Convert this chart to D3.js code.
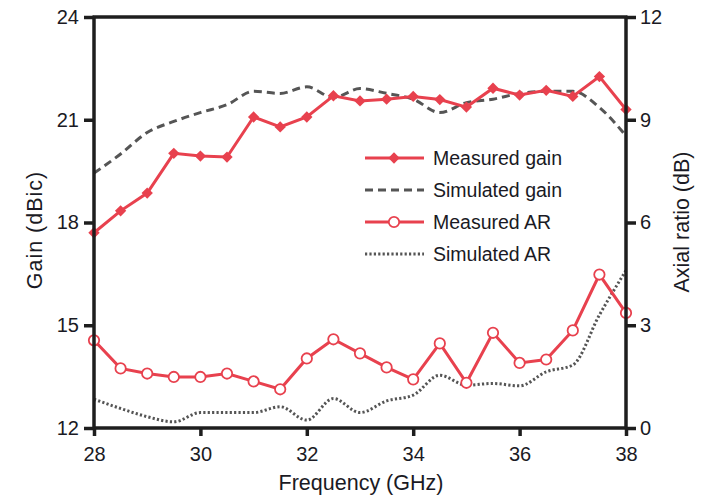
<!DOCTYPE html>
<html><head><meta charset="utf-8">
<script src="https://cdn.jsdelivr.net/npm/d3@7"></script>
<style>body{margin:0;background:#fff}svg{display:block}text{font-family:"Liberation Sans",Arial,sans-serif}</style>
</head><body><svg id="c" width="709" height="496"></svg>
<script>
const freq = [28,28.5,29,29.5,30,30.5,31,31.5,32,32.5,33,33.5,34,34.5,35,35.5,36,36.5,37,37.5,38];
const measuredGain = [17.7,18.34,18.86,20.02,19.94,19.91,21.08,20.79,21.08,21.7,21.55,21.6,21.68,21.59,21.37,21.92,21.72,21.86,21.68,22.26,21.3];
const simulatedGain = [19.44,20.0,20.63,20.95,21.21,21.44,21.83,21.77,21.96,21.65,21.91,21.77,21.6,21.21,21.5,21.6,21.77,21.83,21.83,21.36,20.53];
const measuredAR = [2.56,1.74,1.59,1.49,1.49,1.59,1.36,1.13,2.03,2.59,2.18,1.77,1.42,2.47,1.32,2.78,1.9,2.0,2.85,4.48,3.36];
const simulatedAR = [0.84,0.57,0.33,0.18,0.45,0.45,0.45,0.62,0.23,0.86,0.45,0.79,0.96,1.54,1.25,1.3,1.23,1.64,1.84,3.3,4.6];
const xTicks = [28,30,32,34,36,38];
const gainTicks = [12,15,18,21,24];
const arTicks = [0,3,6,9,12];
const legendLabels = ["Measured gain","Simulated gain","Measured AR","Simulated AR"];

const svg = d3.select("#c");
const L=94, R=626, T=17, B=428;
const x = d3.scaleLinear().domain([28,38]).range([L,R]);
const yG = d3.scaleLinear().domain([12,24]).range([B,T]);
const yA = d3.scaleLinear().domain([0,12]).range([B,T]);
const red="#e8414e", gray="#555", axisCol="#1e1e1e", txt="#1a1a24";

const lineG = d3.line().x((d,i)=>x(freq[i])).y(d=>yG(d));
const lineA = d3.line().x((d,i)=>x(freq[i])).y(d=>yA(d));
const lineGc = d3.line().x((d,i)=>x(freq[i])).y(d=>yG(d)).curve(d3.curveMonotoneX);
const lineAc = d3.line().x((d,i)=>x(freq[i])).y(d=>yA(d)).curve(d3.curveMonotoneX);

svg.append("path").attr("d",lineGc(simulatedGain)).attr("fill","none").attr("stroke",gray).attr("stroke-width",3).attr("stroke-dasharray","8,5");
svg.append("path").attr("d",lineAc(simulatedAR)).attr("fill","none").attr("stroke",gray).attr("stroke-width",3).attr("stroke-dasharray","2.2,2.2");
svg.append("path").attr("d",lineG(measuredGain)).attr("fill","none").attr("stroke",red).attr("stroke-width",3);
svg.append("path").attr("d",lineA(measuredAR)).attr("fill","none").attr("stroke",red).attr("stroke-width",3);

const diamond = d3.symbol().type(d3.symbolSquare).size(64);
svg.append("g").selectAll("path").data(measuredGain).join("path")
  .attr("d",diamond).attr("transform",(d,i)=>`translate(${x(freq[i])},${yG(d)}) rotate(45)`).attr("fill",red);
svg.append("g").selectAll("circle").data(measuredAR).join("circle")
  .attr("cx",(d,i)=>x(freq[i])).attr("cy",d=>yA(d)).attr("r",5.2).attr("fill","#fff").attr("stroke",red).attr("stroke-width",1.8);

// axes
const fs = 20;
const gx = svg.append("g").attr("transform",`translate(0,${B})`).call(d3.axisBottom(x).tickValues(xTicks).tickSize(8).tickFormat(d3.format("d")));
const gl = svg.append("g").attr("transform",`translate(${L},0)`).call(d3.axisLeft(yG).tickValues(gainTicks).tickSize(10));
const gr = svg.append("g").attr("transform",`translate(${R},0)`).call(d3.axisRight(yA).tickValues(arTicks).tickSize(10));
[gx,gl,gr].forEach(g=>{
  g.select(".domain").attr("stroke",axisCol).attr("stroke-width",3.5);
  g.selectAll(".tick line").attr("stroke",axisCol).attr("stroke-width",3.5);
  g.selectAll(".tick text").attr("fill",txt).style("font-size",fs+"px").style("font-family","Liberation Sans, Arial, sans-serif");
});
gx.select(".domain").attr("d",`M${L},0H${R}`);
gl.select(".domain").attr("d",`M0,${B}V${T}`);
gr.select(".domain").attr("d",`M0,${B}V${T}`);
gx.selectAll(".tick text").attr("y",33).attr("dy",0);
gl.selectAll(".tick text").attr("x",-15);
gr.selectAll(".tick text").attr("x",14);
svg.append("line").attr("x1",L-1.5).attr("x2",R+1.5).attr("y1",T).attr("y2",T).attr("stroke",axisCol).attr("stroke-width",3.5);

// titles
const tfs = 21.5;
svg.append("text").attr("x",(L+R)/2+1).attr("y",490).attr("text-anchor","middle").style("font-size",tfs+"px").attr("fill",txt).text("Frequency (GHz)");
svg.append("text").attr("transform",`translate(42,230) rotate(-90)`).attr("text-anchor","middle").style("font-size",tfs+"px").style("letter-spacing","1px").attr("fill",txt).text("Gain (dBic)");
svg.append("text").attr("transform",`translate(689,222) rotate(-90)`).attr("text-anchor","middle").style("font-size",tfs+"px").attr("fill",txt).text("Axial ratio (dB)");

// legend
const lg = svg.append("g");
const ly = [158,190,222,254];
const lx1=365, lx2=424, lmid=394;
lg.append("line").attr("x1",lx1).attr("x2",lx2).attr("y1",ly[0]).attr("y2",ly[0]).attr("stroke",red).attr("stroke-width",3);
lg.append("path").attr("d",diamond).attr("transform",`translate(${lmid},${ly[0]}) rotate(45)`).attr("fill",red);
lg.append("line").attr("x1",lx1).attr("x2",lx2).attr("y1",ly[1]).attr("y2",ly[1]).attr("stroke",gray).attr("stroke-width",3).attr("stroke-dasharray","8,5");
lg.append("line").attr("x1",lx1).attr("x2",lx2).attr("y1",ly[2]).attr("y2",ly[2]).attr("stroke",red).attr("stroke-width",3);
lg.append("circle").attr("cx",lmid).attr("cy",ly[2]).attr("r",5.2).attr("fill","#fff").attr("stroke",red).attr("stroke-width",1.8);
lg.append("line").attr("x1",lx1).attr("x2",lx2).attr("y1",ly[3]).attr("y2",ly[3]).attr("stroke",gray).attr("stroke-width",3).attr("stroke-dasharray","2.2,2.2");
lg.selectAll("text").data(legendLabels).join("text").attr("x",433).attr("y",(d,i)=>ly[i]).attr("dy","0.35em")
  .style("font-size","19.5px").attr("fill",txt).text(d=>d);
</script></body></html>
